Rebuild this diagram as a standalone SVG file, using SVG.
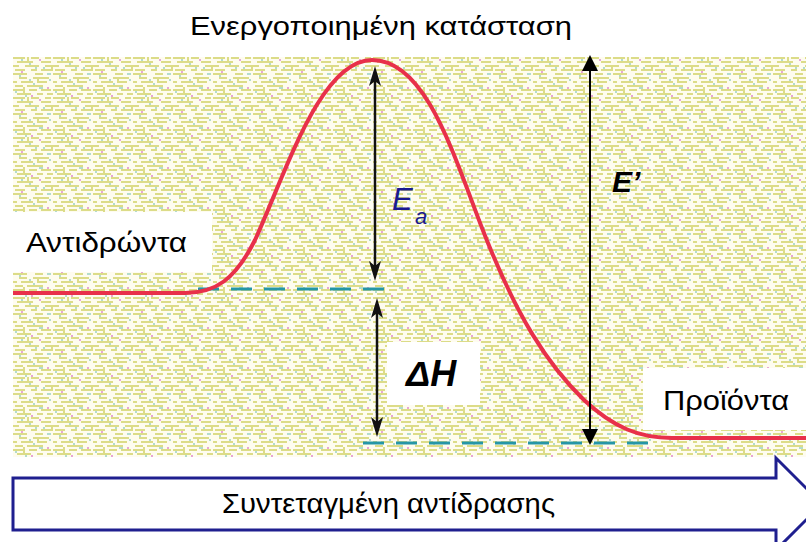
<svg xmlns="http://www.w3.org/2000/svg" width="806" height="542" viewBox="0 0 806 542">
<style>
.lbl{font-family:"Liberation Sans","DejaVu Sans",sans-serif;fill:#000}
.box{fill:#fff}
.dash{fill:none;stroke:#2596a6;stroke-width:3;stroke-dasharray:21 12}
.vline{stroke:#111;stroke-width:2.5;fill:none}
.y{fill:#dcdc88}.t{fill:#b2dccd}.p{fill:#e8a6d4}
</style>
<defs>
<pattern id="maze" x="13" y="57" width="40" height="40" patternUnits="userSpaceOnUse">
<rect width="40" height="40" fill="#fefcef"/>
<g class="y">
<rect x="0" y="0" width="12" height="2"/><rect x="18" y="0" width="8" height="2"/><rect x="32" y="0" width="6" height="2"/>
<rect x="4" y="4" width="16" height="2"/><rect x="28" y="4" width="10" height="2"/>
<rect x="0" y="8" width="6" height="2"/><rect x="12" y="8" width="14" height="2"/><rect x="32" y="8" width="6" height="2"/>
<rect x="2" y="12" width="10" height="2"/><rect x="18" y="12" width="6" height="2"/><rect x="28" y="12" width="12" height="2"/>
<rect x="0" y="16" width="14" height="2"/><rect x="22" y="16" width="8" height="2"/>
<rect x="6" y="20" width="8" height="2"/><rect x="20" y="20" width="16" height="2"/>
<rect x="0" y="24" width="4" height="2"/><rect x="8" y="24" width="12" height="2"/><rect x="26" y="24" width="8" height="2"/>
<rect x="2" y="28" width="8" height="2"/><rect x="14" y="28" width="16" height="2"/>
<rect x="0" y="32" width="10" height="2"/><rect x="16" y="32" width="8" height="2"/><rect x="28" y="32" width="10" height="2"/>
<rect x="4" y="36" width="14" height="2"/><rect x="24" y="36" width="6" height="2"/><rect x="34" y="36" width="6" height="2"/>
<rect x="14" y="0" width="2" height="6"/><rect x="24" y="20" width="2" height="6"/><rect x="10" y="30" width="2" height="6"/><rect x="38" y="8" width="2" height="6"/>
</g>
<g class="t">
<rect x="16" y="6" width="2" height="2"/><rect x="30" y="10" width="2" height="2"/><rect x="6" y="18" width="2" height="2"/><rect x="36" y="22" width="2" height="2"/><rect x="20" y="26" width="2" height="2"/><rect x="12" y="38" width="2" height="2"/><rect x="2" y="34" width="2" height="2"/><rect x="26" y="30" width="4" height="2"/><rect x="34" y="16" width="4" height="2"/><rect x="8" y="2" width="2" height="2"/><rect x="22" y="10" width="2" height="2"/><rect x="16" y="22" width="2" height="2"/>
</g>
<g class="p">
<rect x="26" y="2" width="2" height="2"/><rect x="8" y="14" width="2" height="2"/><rect x="34" y="30" width="2" height="2"/><rect x="18" y="38" width="2" height="2"/>
</g>
</pattern>
</defs>

<rect id="background" x="13" y="57" width="793" height="400" fill="url(#maze)"/>

<g id="connectors">
<path class="dash" d="M198,289 H389"/>
<path class="dash" d="M363,443 H660"/>
<path id="energy-curve" d="M13,293 L185,293 C215,293 235,280 255,240 C285,175 320,60 372,60 C425,60 452,150 482,228 C517,318 548,365 584,400 C614,428 640,438 672,438 L806,438" fill="none" stroke="#e8304a" stroke-width="4"/>
<g id="arrow-Ea">
<line class="vline" x1="375" y1="78" x2="375" y2="270"/>
<path d="M375,66 L381,86 L375,81 L369,86 Z" fill="#111"/>
<path d="M375,281 L381,261 L375,266 L369,261 Z" fill="#111"/>
</g>
<g id="arrow-dH">
<line class="vline" x1="377" y1="308" x2="377" y2="426"/>
<path d="M377,298 L383,318 L377,313 L371,318 Z" fill="#111"/>
<path d="M377,437 L383,417 L377,422 L371,417 Z" fill="#111"/>
</g>
<g id="arrow-E">
<line x1="590" y1="66" x2="590" y2="434" stroke="#000" stroke-width="2"/>
<path d="M590,55 L598,71 L582,71 Z" fill="#000"/>
<path d="M590,445 L598,429 L582,429 Z" fill="#000"/>
</g>
</g>

<g id="title">
<text class="lbl" x="190" y="35" font-size="26" textLength="382" lengthAdjust="spacingAndGlyphs">Ενεργοποιημένη κατάσταση</text>
</g>
<g id="reactants">
<rect class="box" x="13" y="212" width="199" height="60"/>
<text class="lbl" x="26" y="252" font-size="28" textLength="161" lengthAdjust="spacingAndGlyphs">Αντιδρώντα</text>
</g>
<g id="products">
<rect class="box" x="643" y="368" width="163" height="62"/>
<text class="lbl" x="663" y="410" font-size="28" textLength="126" lengthAdjust="spacingAndGlyphs">Προϊόντα</text>
</g>
<g id="label-Ea">
<text x="392" y="210" font-family="Liberation Sans, DejaVu Sans, sans-serif" font-style="italic" font-size="31" fill="#1a1a90">E</text>
<text x="415" y="224" font-family="Liberation Sans, DejaVu Sans, sans-serif" font-style="italic" font-size="22" fill="#1a1a90">a</text>
</g>
<g id="label-dH">
<rect class="box" x="387" y="342" width="93" height="63"/>
<text x="406" y="386" font-family="Liberation Sans, DejaVu Sans, sans-serif" font-style="italic" font-weight="bold" font-size="36" fill="#000">ΔH</text>
</g>
<g id="label-E">
<text x="612" y="192" font-family="Liberation Sans, DejaVu Sans, sans-serif" font-style="italic" font-weight="bold" font-size="30" fill="#000">E’</text>
</g>
<g id="axis">
<path d="M13,478 H776 V458 L822,504 L776,550 V530 H13 Z" fill="#fff" stroke="#1f1f8f" stroke-width="3" stroke-linejoin="miter"/>
<text class="lbl" x="222" y="513" font-size="28" textLength="333" lengthAdjust="spacingAndGlyphs">Συντεταγμένη αντίδρασης</text>
</g>
</svg>
